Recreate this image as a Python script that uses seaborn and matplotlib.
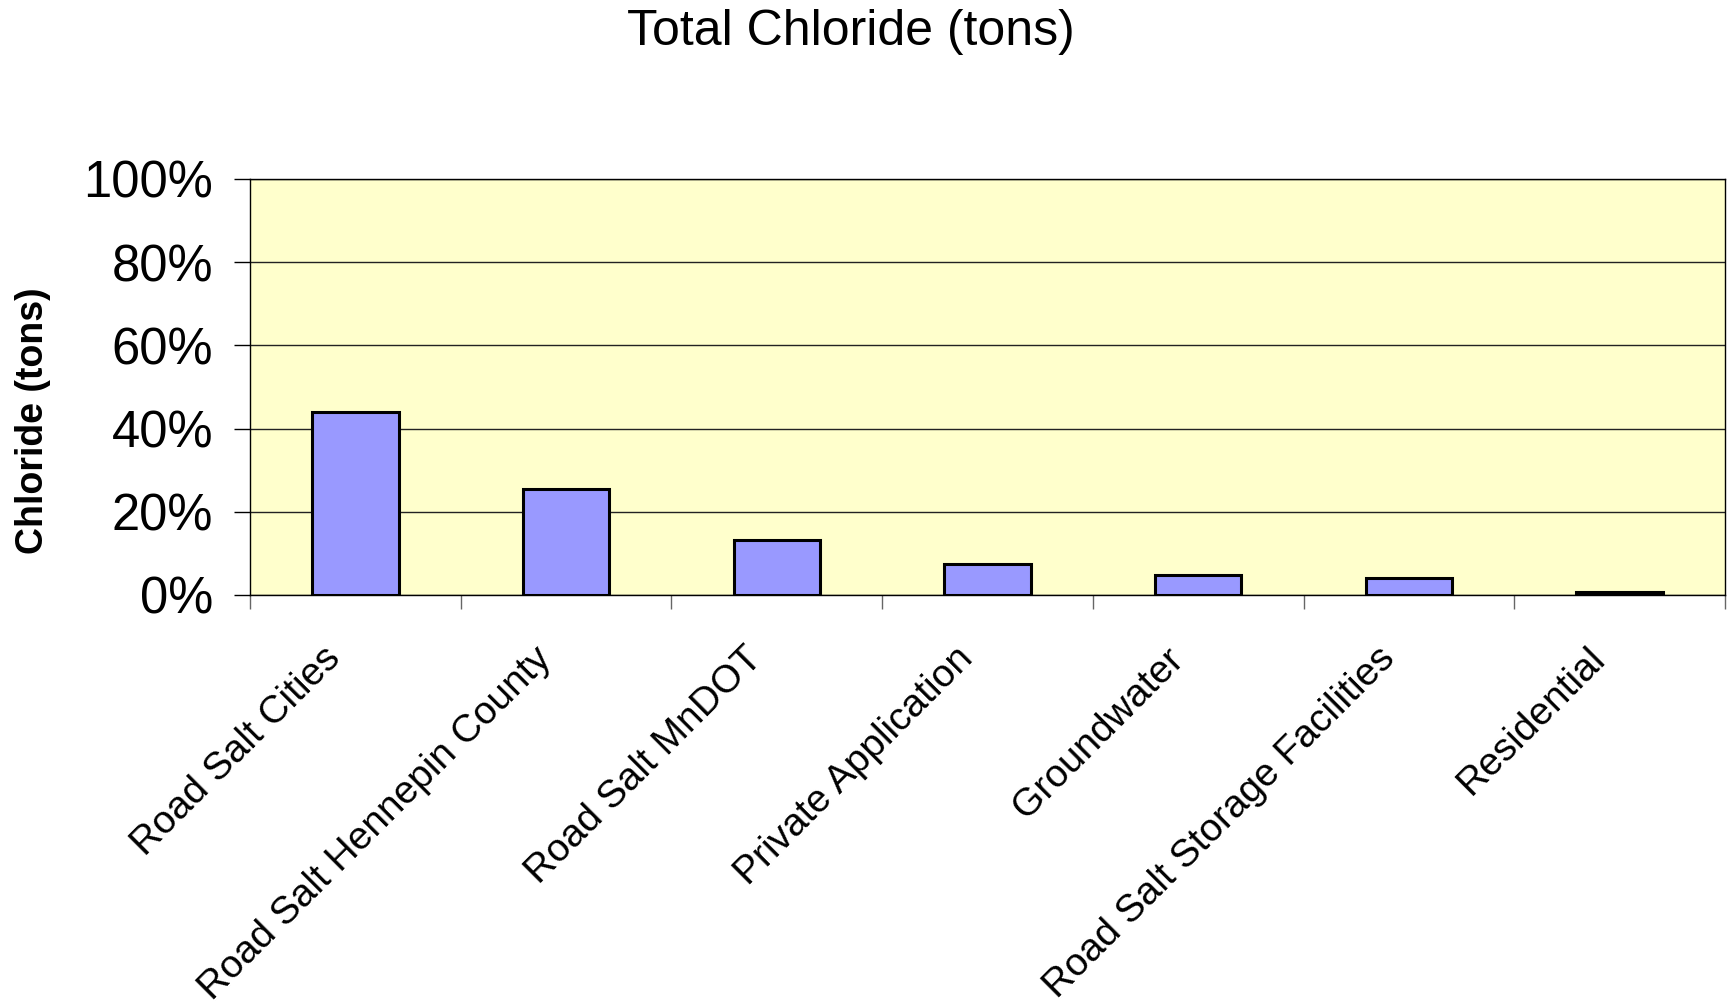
import matplotlib
matplotlib.use("Agg")
import matplotlib.pyplot as plt
from matplotlib.ticker import FixedLocator, FuncFormatter
from matplotlib.transforms import ScaledTranslation
import seaborn as sns
import pandas as pd
import numpy as np

# Share of total chloride load by source (percent)
sources = [
    "Road Salt Cities",
    "Road Salt Hennepin County",
    "Road Salt MnDOT",
    "Private Application",
    "Groundwater",
    "Road Salt Storage Facilities",
    "Residential",
]
share_pct = [44.0, 25.6, 13.2, 7.5, 4.9, 4.1, 0.7]
y_ticks = [0, 20, 40, 60, 80, 100]

sns.set_theme(style="white")
plt.rcParams["font.family"] = ["Liberation Sans", "DejaVu Sans"]
plt.rcParams["text.color"] = "black"
plt.rcParams["xtick.color"] = "black"
plt.rcParams["ytick.color"] = "black"
plt.rcParams["xtick.labelcolor"] = "black"
plt.rcParams["ytick.labelcolor"] = "black"

df = pd.DataFrame({"source": sources, "share": share_pct})

fig = plt.figure(figsize=(17.31, 10.07), dpi=100)
ax = fig.add_axes([250 / 1731, 1 - 595 / 1007, (1725 - 250) / 1731, (595 - 179) / 1007])
ax.set_facecolor("#FFFFCC")

sns.barplot(data=df, x="source", y="share", color="#9999FF", saturation=1,
            edgecolor="black", linewidth=2.2, width=0.41, ax=ax, zorder=3)

ax.set_ylim(0, 100)
ax.set_xlim(-0.5, len(sources) - 0.5)
ax.yaxis.set_major_locator(FixedLocator(y_ticks))
ax.yaxis.set_major_formatter(FuncFormatter(lambda v, p: f"{v:.0f}%"))
ax.yaxis.grid(True, color="#222222", linewidth=1.0, zorder=1)
ax.set_axisbelow(True)

for side in ["left", "bottom", "right", "top"]:
    ax.spines[side].set_visible(True)
    ax.spines[side].set_color("black")
    ax.spines[side].set_linewidth(1.0)

ax.tick_params(axis="y", which="major", length=11.5, width=1.0, color="black",
               labelcolor="black", pad=15, labelsize=36.5, left=True)

# category boundaries carry the x tick marks, labels sit under the bars
ax.xaxis.set_minor_locator(FixedLocator(np.arange(-0.5, len(sources), 1.0)))
ax.tick_params(axis="x", which="minor", length=10, width=1.0, color="#666666", bottom=True)
ax.tick_params(axis="x", which="major", length=0, pad=42, labelsize=28, labelcolor="black")
ax.set_xticks(range(len(sources)))
ax.set_xticklabels(sources, rotation=45, ha="right", va="center", rotation_mode="anchor")
shift = ScaledTranslation(-20 / 100, 0, fig.dpi_scale_trans)
for lbl in ax.get_xticklabels():
    lbl.set_transform(lbl.get_transform() + shift)

ax.set_xlabel("")
ax.set_ylabel("")
fig.text(33 / 1731, 1 - 421 / 1007, "Chloride (tons)", rotation=90, fontsize=27,
         fontweight="bold", ha="center", va="center", color="black")
fig.text(851 / 1731, 1 - 32 / 1007, "Total Chloride (tons)", fontsize=36,
         ha="center", va="center", color="black")

fig.savefig("out.png", dpi=100, facecolor="white")
